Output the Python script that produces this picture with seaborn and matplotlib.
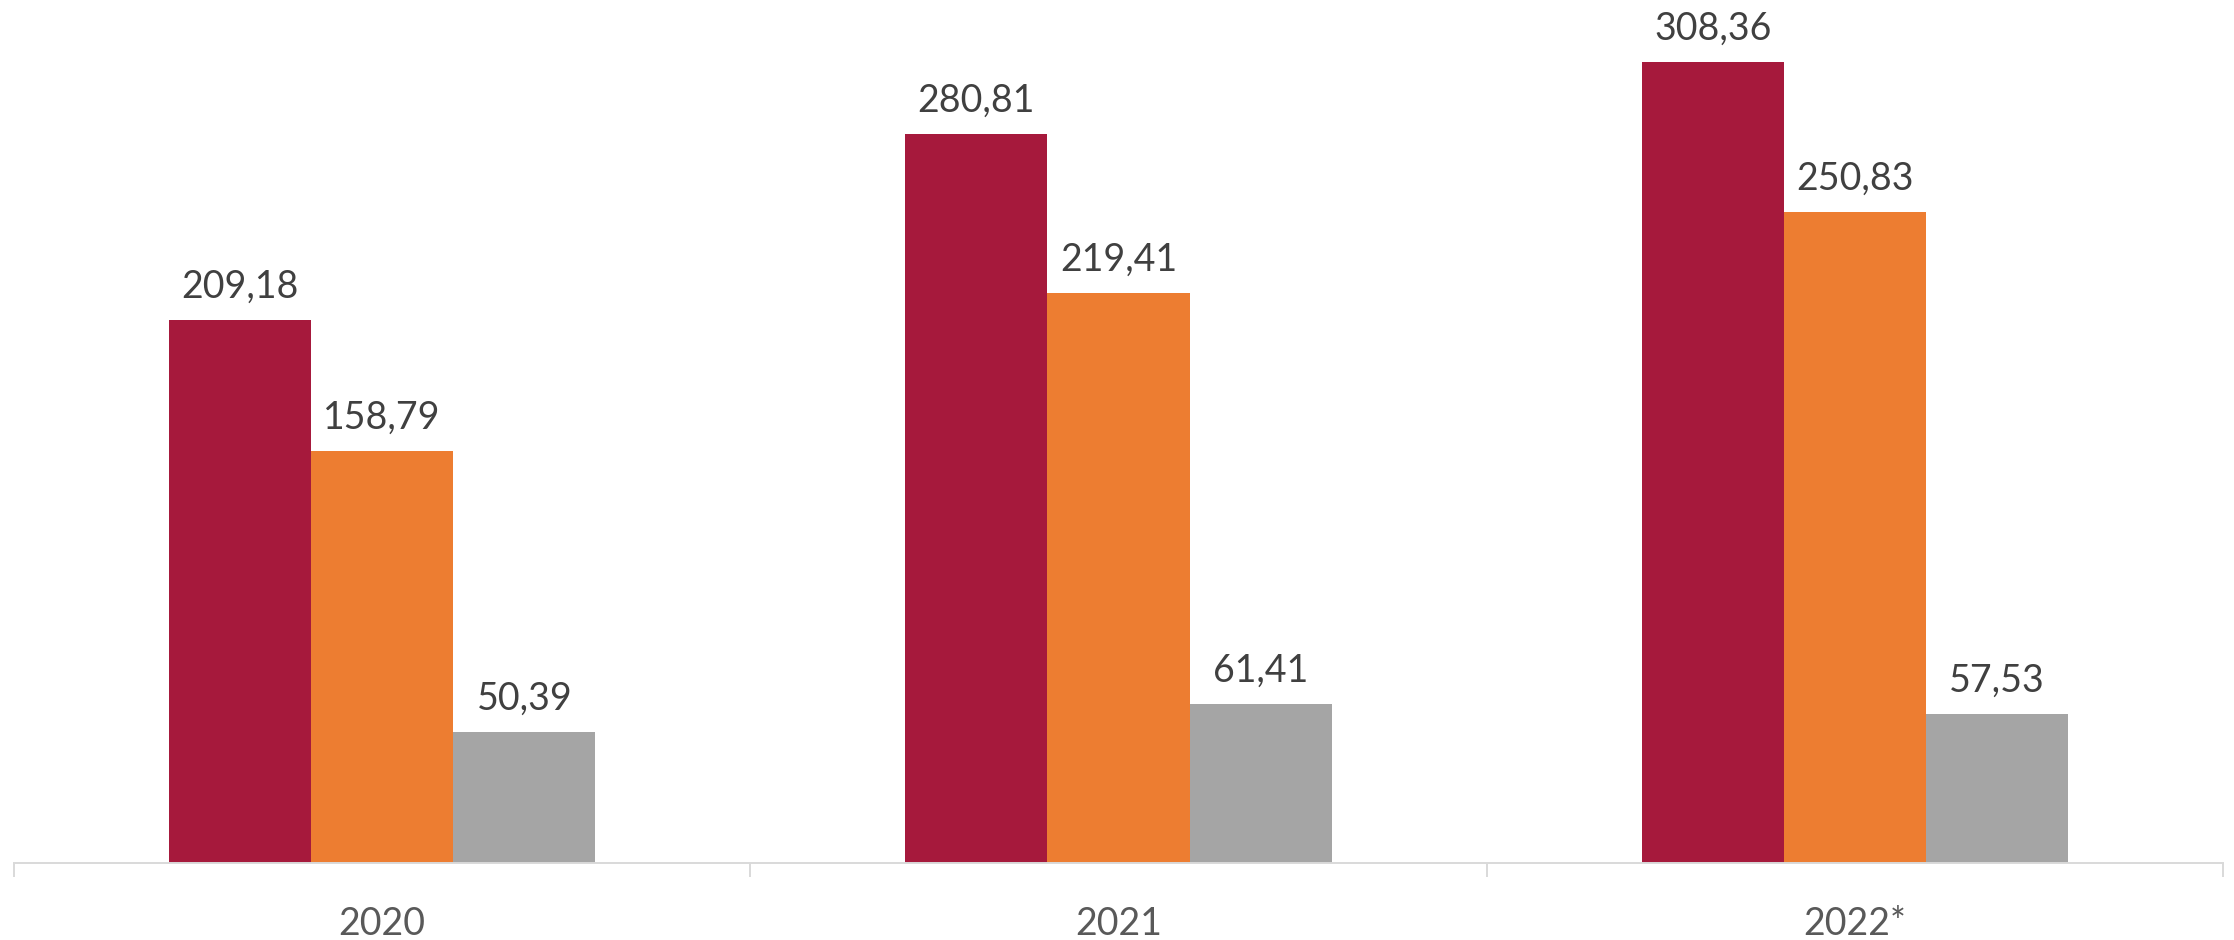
import matplotlib
matplotlib.use("Agg")
import matplotlib.pyplot as plt
import seaborn as sns
import pandas as pd

years = ["2020", "2021", "2022*"]
series_names = ["Series 1", "Series 2", "Series 3"]
series1 = [209.18, 280.81, 308.36]
series2 = [158.79, 219.41, 250.83]
series3 = [50.39, 61.41, 57.53]
colors = ["#A6193C", "#ED7D31", "#A5A5A5"]

rows = []
for name, vals in zip(series_names, [series1, series2, series3]):
    for y, v in zip(years, vals):
        rows.append({"year": y, "series": name, "value": v})
df = pd.DataFrame(rows)

sns.set_theme(style="white")
plt.rcParams["font.family"] = ["Lato", "DejaVu Sans"]

fig = plt.figure(figsize=(22.34, 9.40), dpi=100)
ax = fig.add_axes([0.00627, 0.0819, 0.98881, 0.9181])

sns.barplot(data=df, x="year", y="value", hue="series", order=years,
            hue_order=series_names, palette=colors, width=0.579,
            linewidth=0, saturation=1, legend=False, ax=ax, errorbar=None)

for cont in ax.containers:
    labels = [f"{b.get_height():.2f}".replace(".", ",") for b in cont]
    ax.bar_label(cont, labels=labels, padding=11, fontsize=27,
                 color="#404040")

ax.set_xlim(-0.5, 2.5)
ax.set_ylim(0, 332.4)
ax.set_xlabel("")
ax.set_ylabel("")
ax.set_yticks([])
for s in ["left", "right", "top"]:
    ax.spines[s].set_visible(False)
ax.spines["bottom"].set_color("#D9D9D9")
ax.spines["bottom"].set_linewidth(1.4)

ax.set_xticks(range(len(years)))
ax.set_xticklabels(years)
ax.set_xticks([-0.5, 0.5, 1.5, 2.5], minor=True)
ax.tick_params(axis="x", which="major", length=0, pad=31, labelsize=27,
               labelcolor="#595959")
ax.tick_params(axis="x", which="minor", length=10, width=1.4,
               color="#D9D9D9", bottom=True)

fig.savefig("out.png", dpi=100)
